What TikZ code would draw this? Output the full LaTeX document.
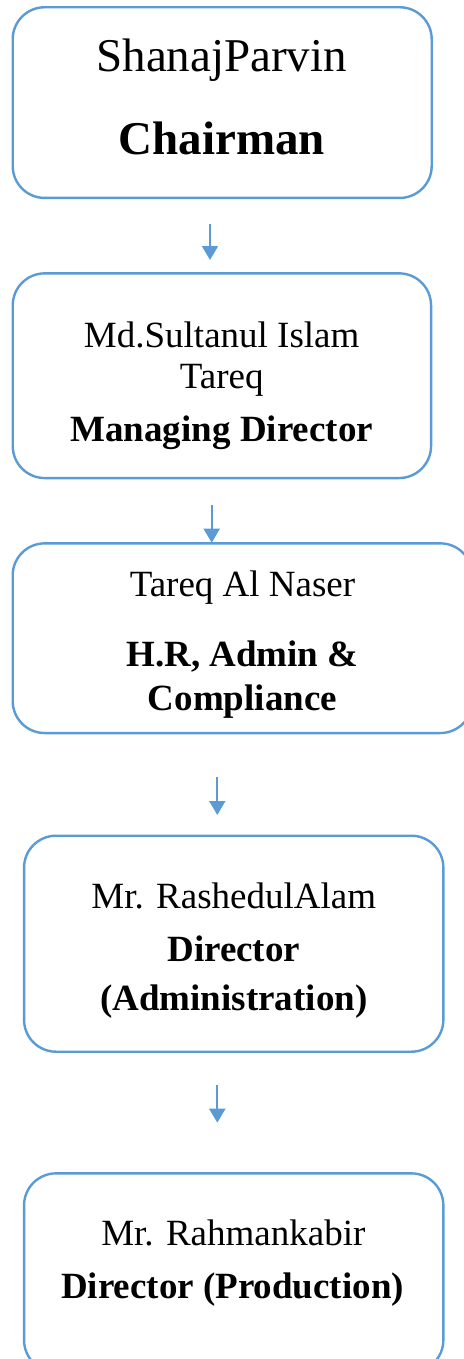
\documentclass[tikz,border=0pt]{standalone}
\usepackage{fontspec}
\setmainfont{Liberation Serif}
\usetikzlibrary{arrows.meta}
\definecolor{orgblue}{HTML}{5B9BD5}
\tikzset{
  orgbox/.style={draw=orgblue, line width=2.4pt, rounded corners=32pt,
    inner sep=0pt, outer sep=0pt, fill=white},
  bigperson/.style={anchor=base, inner sep=0pt, font=\fontsize{47}{52}\selectfont},
  bigtitle/.style={anchor=base, inner sep=0pt, font=\fontsize{47}{52}\selectfont\bfseries},
  person/.style={anchor=base, inner sep=0pt, font=\fontsize{37}{41}\selectfont},
  jobtitle/.style={anchor=base, inner sep=0pt, font=\fontsize{37}{41}\selectfont\bfseries},
  link/.style={draw=orgblue, line width=2pt, -{Triangle[width=16pt,length=14pt]}}
}
\begin{document}
\begin{tikzpicture}[x=1pt,y=-1pt]
\useasboundingbox (0,0) rectangle (463,1359);

% boxes
\node[orgbox, minimum width=419pt, minimum height=190.7pt] (chair) at (222.2,102.6) {};
\node[orgbox, minimum width=418.3pt, minimum height=204.7pt] (md) at (221.9,375.7) {};
\node[orgbox, minimum width=459.6pt, minimum height=189.7pt] (hr) at (242.5,638.2) {};
\node[orgbox, minimum width=419.3pt, minimum height=216pt] (admin) at (233.7,943.7) {};
\node[orgbox, minimum width=419.3pt, minimum height=198.7pt] (prod) at (233.7,1272.7) {};

% texts
\node[bigperson] (chairname) at (221.7,71.7) {ShanajParvin};
\node[bigtitle] (chairrole) at (221.7,155) {Chairman};

\node[person] (mdname1) at (221.7,347) {Md.Sultanul Islam};
\node[person] (mdname2) at (221.7,388.3) {Tareq};
\node[jobtitle] (mdrole) at (221.7,441.7) {Managing Director};

\node[person] (hrname) at (242.5,596.7) {Tareq Al Naser};
\node[jobtitle] (hrrole1) at (242.5,666.7) {H.R, Admin \&};
\node[jobtitle] (hrrole2) at (242.5,710) {Compliance};

\node[person] (adname) at (233.8,908) {Mr. RashedulAlam};
\node[jobtitle] (adrole1) at (233.8,961.7) {Director};
\node[jobtitle] (adrole2) at (233.8,1010) {(Administration)};

\node[person] (prname) at (233.3,1245.7) {Mr. Rahmankabir};
\node[jobtitle] (prrole) at (232.5,1298) {Director (Production)};

% connectors
\coordinate (a1s) at (210,224);   \coordinate (a1e) at (210,260);
\coordinate (a2s) at (211.7,505); \coordinate (a2e) at (211.7,542.7);
\coordinate (a3s) at (217.3,777); \coordinate (a3e) at (217.3,815);
\coordinate (a4s) at (217.3,1085);\coordinate (a4e) at (217.3,1122.7);
\draw[link] (a1s) -- (a1e);
\draw[link] (a2s) -- (a2e);
\draw[link] (a3s) -- (a3e);
\draw[link] (a4s) -- (a4e);
\end{tikzpicture}
\end{document}
